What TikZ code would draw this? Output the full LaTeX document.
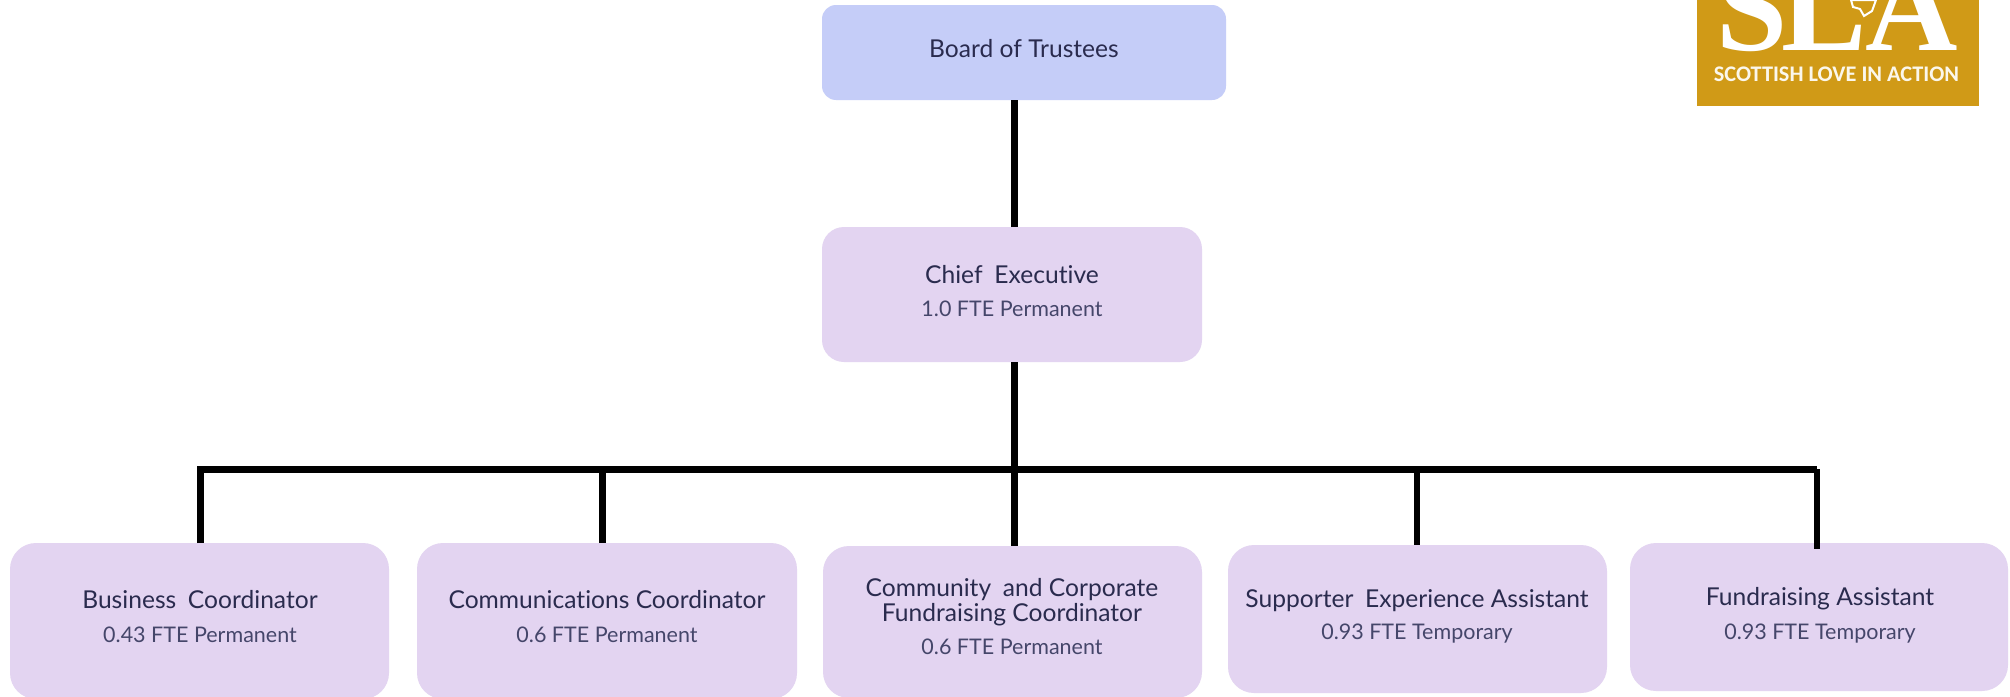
\documentclass[tikz,border=0pt]{standalone}
\usepackage{fontspec}
\setmainfont{Lato}[Ligatures=CommonOff]
\newfontfamily\logofont{Liberation Serif}[BoldFont=Liberation Serif Bold]
\newfontfamily\logosans{Carlito}
\definecolor{boardfill}{HTML}{C5CDF8}
\definecolor{stafffill}{HTML}{E3D4F1}
\definecolor{titleink}{HTML}{2A2B4E}
\definecolor{subink}{HTML}{45466A}
\definecolor{logogold}{HTML}{D09A17}
\tikzset{
  x=1pt,y=-1pt,
  orgbox/.style={rounded corners=#1,inner sep=0pt,outer sep=0pt,draw=none,anchor=center},
  titletext/.style={anchor=base,align=center,text=titleink,font=\fontsize{24.6}{28}\selectfont,inner sep=0pt},
  subtext/.style={anchor=base,align=center,text=subink,font=\fontsize{21.5}{25}\selectfont,inner sep=0pt},
  heavy/.style={line width=7pt,black},
  lighter/.style={line width=6pt,black}
}
\newcommand{\gap}{\hspace{0.22em}}
\begin{document}
\begin{tikzpicture}
\useasboundingbox (0,0) rectangle (2010,696);
\fill[white] (0,0) rectangle (2010,696);
% logo
\begin{scope}
\clip (1697,0) rectangle (1979,106);
\fill[logogold] (1697,0) rectangle (1979,106);
\node[anchor=base west,inner sep=0pt,text=white,font=\logofont\bfseries\fontsize{128}{128}\selectfont] (logoS) at (1716,50) {S};
\node[anchor=base west,inner sep=0pt,text=white,font=\logofont\bfseries\fontsize{128}{128}\selectfont] (logoL) at (1781,50) {L};
\node[anchor=base east,inner sep=0pt,text=white,font=\logofont\bfseries\fontsize{128}{128}\selectfont] (logoA) at (1958,50) {A};
\filldraw[fill=logogold,draw=white,line width=2pt] (1851,0) -- (1853,7) -- (1860,9) -- (1864,16) -- (1872,11) -- (1876,0) -- cycle;
\end{scope}
\node[anchor=base,inner sep=0pt,text=white!92!logogold,font=\logosans\bfseries\fontsize{22.3}{22}\selectfont] (logotext) at (1836.5,81) {SCOTTISH LOVE IN ACTION};
% boxes
\node[orgbox=14pt,fill=boardfill,minimum width=404pt,minimum height=95pt] (board) at (1024,52.5) {};
\node[orgbox=22pt,fill=stafffill,minimum width=380pt,minimum height=135pt] (chief) at (1012,294.5) {};
\node[orgbox=26pt,fill=stafffill,minimum width=379pt,minimum height=156pt] (b1) at (199.5,621) {};
\node[orgbox=26pt,fill=stafffill,minimum width=380pt,minimum height=156pt] (b2) at (607,621) {};
\node[orgbox=26pt,fill=stafffill,minimum width=379pt,minimum height=152pt] (b3) at (1012.5,622) {};
\node[orgbox=26pt,fill=stafffill,minimum width=379pt,minimum height=148pt] (b4) at (1417.5,619) {};
\node[orgbox=26pt,fill=stafffill,minimum width=378pt,minimum height=148pt] (b5) at (1819,617) {};
% connectors
\coordinate (busm) at (1014,469);
\coordinate (busl) at (200,469);
\coordinate (busb) at (602.5,469);
\coordinate (busd) at (1416.5,469);
\coordinate (busr) at (1817,469);
\coordinate (d5) at (1817,549);
\draw[heavy] (chief.north -| busm) -- (board.south -| busm);
\draw[heavy] (chief.south -| busm) -- (busm);
\draw[heavy] (b1.north -| busl) -- (busl) -- (busr);
\draw[lighter] (busr) -- (d5);
\draw[heavy] (busb) -- (b2.north -| busb);
\draw[heavy] (busm) -- (b3.north -| busm);
\draw[lighter] (busd) -- (b4.north -| busd);
% text
\node[titletext] (tboard) at (1024,57) {Board of Trustees};
\node[titletext] (tchief) at (1012,283) {Chief\gap{} Executive};
\node[subtext] (schief) at (1012,316) {1.0 FTE Permanent};
\node[titletext] (t1) at (200,608) {Business\gap{} Coordinator};
\node[subtext] (s1) at (200,642) {0.43 FTE Permanent};
\node[titletext] (t2) at (607,608) {Communications Coordinator};
\node[subtext] (s2) at (607,642) {0.6 FTE Permanent};
\node[titletext] (t3a) at (1012,596) {Community\gap{} and Corporate};
\node[titletext] (t3b) at (1012,621) {Fundraising Coordinator};
\node[subtext] (s3) at (1012,654) {0.6 FTE Permanent};
\node[titletext] (t4) at (1417,607) {Supporter\gap{} Experience Assistant};
\node[subtext] (s4) at (1417,639) {0.93 FTE Temporary};
\node[titletext] (t5) at (1820,605) {Fundraising Assistant};
\node[subtext] (s5) at (1820,639) {0.93 FTE Temporary};
\end{tikzpicture}
\end{document}
